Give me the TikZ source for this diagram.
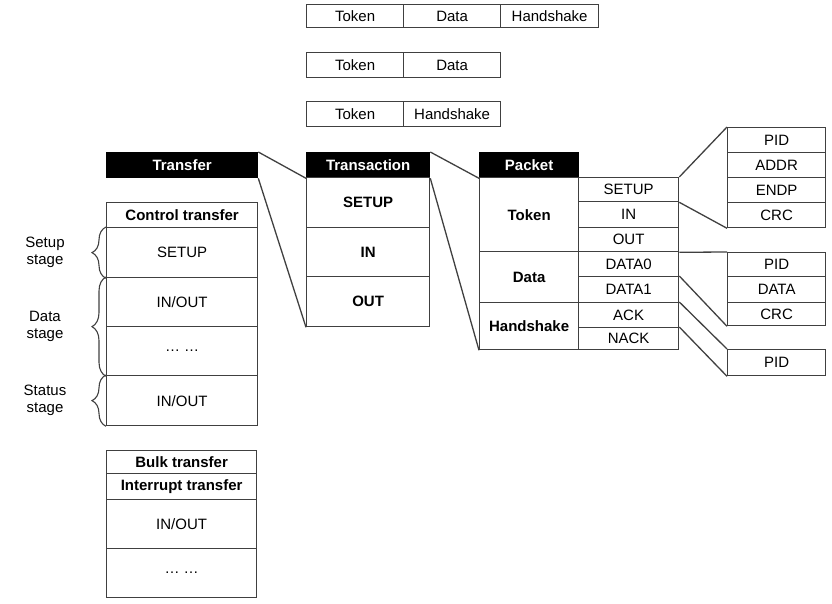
\documentclass[tikz,border=0pt]{standalone}
\usepackage{fontspec}
\setmainfont{Liberation Sans}
\usetikzlibrary{decorations.pathreplacing}
\tikzset{
  cell/.style={draw=black!75, line width=1.3pt, inner sep=0pt, font=\fontsize{15}{17}\selectfont},
  bcell/.style={cell, font=\fontsize{15}{17}\selectfont\bfseries},
  hdr/.style={cell, draw=black, fill=black, text=white, font=\fontsize{15}{17}\selectfont\bfseries},
  conn/.style={draw=black!75, line width=1.3pt},
  stagebrace/.style={draw=black!75, line width=1.1pt, decorate, decoration={brace, amplitude=14pt}},
  lbl/.style={align=center, font=\fontsize{15}{17}\selectfont, inner sep=0pt}
}
\newcommand{\mkcell}[7]{%
  \pgfmathsetmacro\cellw{#5-#3}\pgfmathsetmacro\cellh{#6-#4}%
  \node[#1, minimum width=\cellw pt, minimum height=\cellh pt, anchor=north west] (#2) at (#3,#4) {#7};}
\begin{document}
\begin{tikzpicture}[x=1pt,y=-1pt]
\useasboundingbox (0,0) rectangle (832,604);
% top sequences
\mkcell{cell}{r1a}{306}{4}{403}{27}{Token}
\mkcell{cell}{r1b}{403}{4}{500}{27}{Data}
\mkcell{cell}{r1c}{500}{4}{598}{27}{Handshake}
\mkcell{cell}{r2a}{306}{52}{403}{77}{Token}
\mkcell{cell}{r2b}{403}{52}{500}{77}{Data}
\mkcell{cell}{r3a}{306}{101}{403}{126}{Token}
\mkcell{cell}{r3b}{403}{101}{500}{126}{Handshake}
% transfer
\mkcell{hdr}{tr}{106}{152}{257}{177}{Transfer}
\mkcell{bcell}{ct}{106}{202}{257}{227}{Control transfer}
\mkcell{cell}{c1}{106}{227}{257}{277}{SETUP}
\mkcell{cell}{c2}{106}{277}{257}{326}{IN/OUT}
\mkcell{cell}{c3}{106}{326}{257}{375}{… …}
\mkcell{cell}{c4}{106}{375}{257}{425}{IN/OUT}
\mkcell{bcell}{b0}{106}{450}{256}{473}{Bulk transfer}
\mkcell{bcell}{b1}{106}{473}{256}{499}{Interrupt transfer}
\mkcell{cell}{b2}{106}{499}{256}{548}{IN/OUT}
\mkcell{cell}{b3}{106}{548}{256}{597}{… …}
% braces and stage labels
\draw[stagebrace] (c1.south west) -- (c1.north west);
\draw[stagebrace] (c3.south west) -- (c2.north west);
\draw[stagebrace] (c4.south west) -- (c4.north west);
\node[lbl] (ls) at (45,252) {Setup\\stage};
\node[lbl] (ld) at (45,326) {Data\\stage};
\node[lbl] (lt) at (45,400) {Status\\stage};
% transaction
\mkcell{hdr}{th}{306}{152}{429}{177}{Transaction}
\mkcell{bcell}{t1}{306}{177}{429}{227}{SETUP}
\mkcell{bcell}{t2}{306}{227}{429}{276}{IN}
\mkcell{bcell}{t3}{306}{276}{429}{326}{OUT}
% packet
\mkcell{hdr}{ph}{479}{152}{578}{177}{Packet}
\mkcell{bcell}{pt}{479}{177}{578}{251}{Token}
\mkcell{bcell}{pd}{479}{251}{578}{302}{Data}
\mkcell{bcell}{phs}{479}{302}{578}{349}{Handshake}
\mkcell{cell}{s1}{578}{177}{678}{201}{SETUP}
\mkcell{cell}{s2}{578}{201}{678}{227}{IN}
\mkcell{cell}{s3}{578}{227}{678}{251}{OUT}
\mkcell{cell}{s4}{578}{251}{678}{276}{DATA0}
\mkcell{cell}{s5}{578}{276}{678}{302}{DATA1}
\mkcell{cell}{s6}{578}{302}{678}{327}{ACK}
\mkcell{cell}{s7}{578}{327}{678}{349}{NACK}
% fields
\mkcell{cell}{f1}{727}{127}{825}{152}{PID}
\mkcell{cell}{f2}{727}{152}{825}{177}{ADDR}
\mkcell{cell}{f3}{727}{177}{825}{202}{ENDP}
\mkcell{cell}{f4}{727}{202}{825}{227}{CRC}
\mkcell{cell}{g1}{727}{252}{825}{276}{PID}
\mkcell{cell}{g2}{727}{276}{825}{302}{DATA}
\mkcell{cell}{g3}{727}{302}{825}{325}{CRC}
\mkcell{cell}{h1}{727}{349}{825}{375}{PID}
% connectors
\draw[conn] (tr.north east) -- (th.south west);
\draw[conn] (tr.south east) -- (t3.south west);
\draw[conn] (th.north east) -- (ph.south west);
\draw[conn] (th.south east) -- (phs.south west);
\draw[conn] (s1.north east) -- (f1.north west);
\draw[conn] (s1.south east) -- (f4.south west);
\draw[conn] (s3.south east) -- (g1.north west);
\draw[conn] (s5.north east) -- (g3.south west);
\draw[conn] (s6.north east) -- (h1.north west);
\draw[conn] (s7.north east) -- (h1.south west);
\end{tikzpicture}
\end{document}
